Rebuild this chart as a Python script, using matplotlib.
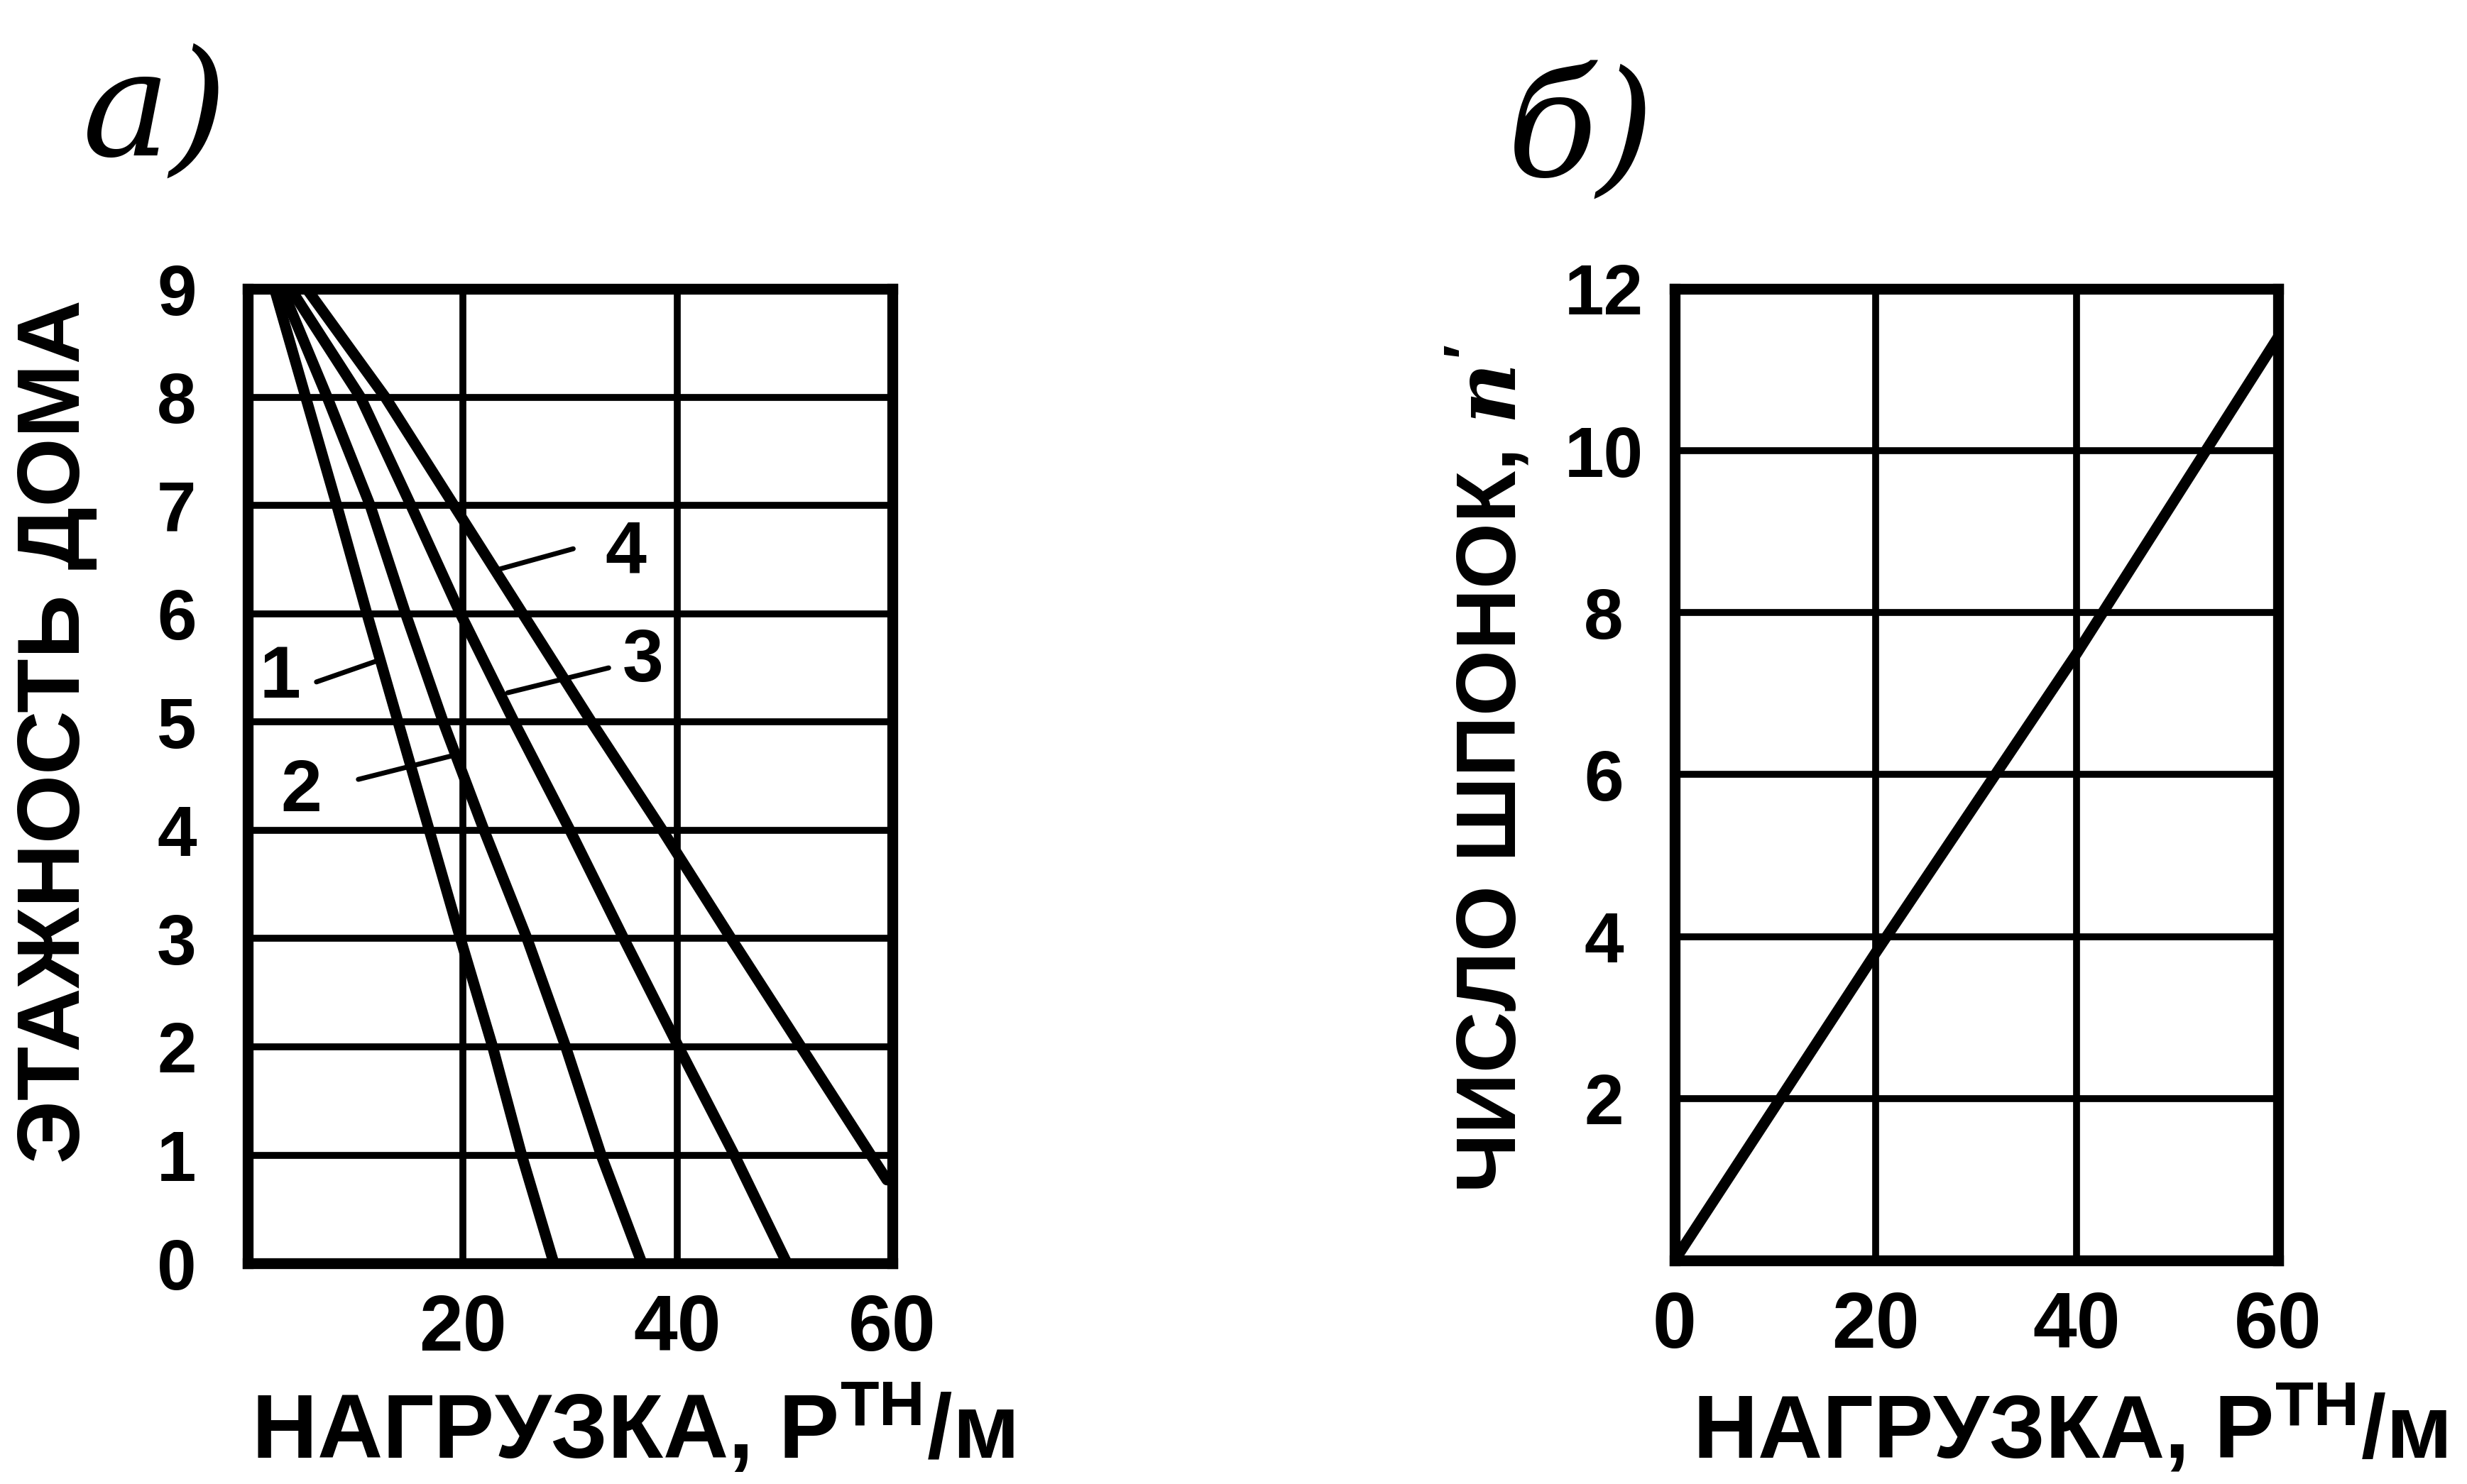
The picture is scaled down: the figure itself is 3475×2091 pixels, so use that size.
import matplotlib
matplotlib.use('Agg')
import matplotlib.pyplot as plt

# a) storeys vs load, four curves
floors = [9, 8, 7, 6, 5, 4, 3, 2, 1, 0]
load_1 = [2.5, 5.4, 8.3, 11.1, 14.0, 16.9, 19.8, 22.8, 25.5, 28.5]
load_2 = [3.2, 7.4, 11.4, 14.7, 18.2, 22.0, 26.0, 29.6, 32.9, 36.7]
load_3 = [4.0, 10.5, 15.2, 19.8, 24.8, 30.0, 35.0, 40.1, 45.3, 50.2]
floors_4 = [9, 8, 7, 6, 5, 4, 3, 2, 1, 0.77]
load_4 = [5.5, 12.8, 19.2, 25.6, 32.0, 38.6, 45.0, 51.5, 58.0, 59.5]

# б) number of keys vs load
key_load = [0, 20, 40, 60]
key_count = [0, 3.8, 7.5, 11.4]

floor_ticks = list(range(10))
key_ticks = [2, 4, 6, 8, 10, 12]

plt.rcParams['font.family'] = ['Liberation Sans', 'DejaVu Sans']
plt.rcParams['font.weight'] = 'bold'
plt.rcParams['mathtext.fontset'] = 'custom'
plt.rcParams['mathtext.rm'] = 'Liberation Sans:bold'
plt.rcParams['mathtext.it'] = 'DejaVu Serif:italic'

fig = plt.figure(figsize=(34.75, 20.91), dpi=100)
ax1 = fig.add_axes([0.1004, 0.1487, 0.2613, 0.6566])
ax2 = fig.add_axes([0.6788, 0.1507, 0.2446, 0.6547])


def frame(ax):
    for s in ax.spines.values():
        s.set_linewidth(11)
    ax.grid(True, color='black', lw=7)
    ax.set_axisbelow(True)
    ax.tick_params(length=0)
    ax.tick_params(axis='x', labelsize=80, pad=30)
    ax.tick_params(axis='y', labelsize=72, pad=72)
    for lab in ax.get_yticklabels():
        lab.set_horizontalalignment('center')


ax1.set_xlim(0, 60)
ax1.set_ylim(0, 9)
ax1.set_xticks([20, 40, 60])
ax1.set_yticks(floor_ticks)
frame(ax1)
for x, y in [(load_1, floors), (load_2, floors), (load_3, floors), (load_4, floors_4)]:
    ax1.plot(x, y, color='black', lw=11, solid_capstyle='round')

# curve labels with leader lines
for txt, pos, a, b in [('1', (3.0, 5.4), (6.4, 5.37), (11.9, 5.56)),
                       ('2', (5.0, 4.35), (10.3, 4.47), (19.5, 4.7)),
                       ('3', (36.8, 5.55), (33.6, 5.5), (24.2, 5.27)),
                       ('4', (35.2, 6.55), (30.3, 6.6), (23.0, 6.4))]:
    ax1.text(pos[0], pos[1], txt, fontsize=75, ha='center', va='center')
    ax1.annotate('', xy=b, xytext=a,
                 arrowprops=dict(arrowstyle='-', lw=5, color='black',
                                 shrinkA=0, shrinkB=0))

ax2.set_xlim(0, 60)
ax2.set_ylim(0, 12)
ax2.set_xticks([0, 20, 40, 60])
ax2.set_yticks(key_ticks)
frame(ax2)
ax2.plot(key_load, key_count, color='black', lw=11, solid_capstyle='round')

fig.text(0.063, 0.923, 'а)', family='DejaVu Serif', style='italic',
         weight='normal', fontsize=150, ha='center', va='center')
fig.text(0.641, 0.909, 'б)', family='DejaVu Serif', style='italic',
         weight='normal', fontsize=150, ha='center', va='center')

fig.text(0.023, 0.507, 'ЭТАЖНОСТЬ ДОМА', rotation=90, fontsize=90,
         ha='center', va='center')
fig.text(0.604, 0.482, "ЧИСЛО ШПОНОК, $n^{\\prime}$", rotation=90, fontsize=86,
         ha='center', va='center')

xlab = 'НАГРУЗКА, Р$^{\\mathrm{ТН}}$/м'
fig.text(0.102, 0.036, xlab, fontsize=92, ha='left', va='center')
fig.text(0.686, 0.036, xlab, fontsize=91, ha='left', va='center')

fig.savefig('out.png', dpi=100, facecolor='white')
